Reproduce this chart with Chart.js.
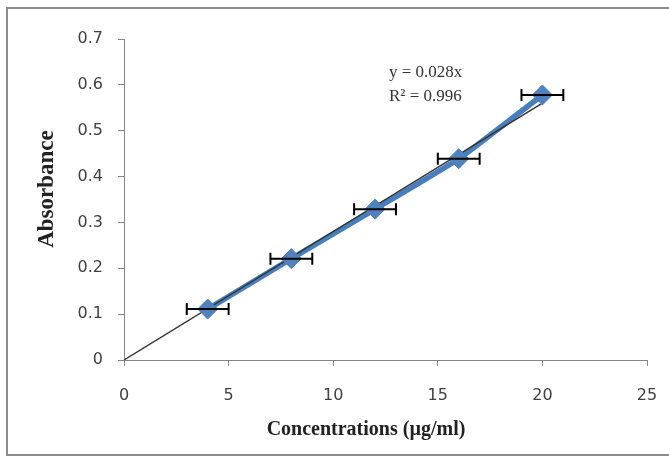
<!DOCTYPE html>
<html>
<head>
<meta charset="utf-8">
<script src="https://cdn.jsdelivr.net/npm/chart.js@4"></script>
<style>
  html, body { margin: 0; padding: 0; background: #ffffff; }
  #wrap { width: 669px; height: 459px; position: relative; }
</style>
</head>
<body>
<div id="wrap"><canvas id="c" width="669" height="459"></canvas></div>
<script>
// ---- data ----
const concentrations = [4, 8, 12, 16, 20];
const absorbance = [0.111, 0.221, 0.329, 0.439, 0.578];
const concErr = [1, 1, 1, 1, 1];
const trendX = [0, 20];
const trendY = [0, 0.56];
const xTickLabels = ['0', '5', '10', '15', '20', '25'];
const yTickLabels = ['0', '0.1', '0.2', '0.3', '0.4', '0.5', '0.6', '0.7'];
const equationLines = ['y = 0.028x', 'R\u00B2 = 0.996'];
const xTitle = 'Concentrations (\u00B5g/ml)';
const yTitle = 'Absorbance';

const points = concentrations.map((x, i) => ({ x: x, y: absorbance[i] }));
const trend = trendX.map((x, i) => ({ x: x, y: trendY[i] }));

const blue = '#4A7EBB';
const axisGrey = '#868686';

const errorBars = {
  id: 'errorBars',
  afterDatasetsDraw(chart) {
    const ctx = chart.ctx;
    const xs = chart.scales.x, ys = chart.scales.y;
    ctx.save();
    ctx.strokeStyle = '#000000';
    ctx.lineWidth = 2;
    concentrations.forEach((x, i) => {
      const y = ys.getPixelForValue(absorbance[i]);
      const x1 = xs.getPixelForValue(x - concErr[i]);
      const x2 = xs.getPixelForValue(x + concErr[i]);
      ctx.beginPath();
      ctx.moveTo(x1, y); ctx.lineTo(x2, y);
      ctx.moveTo(x1, y - 6); ctx.lineTo(x1, y + 6);
      ctx.moveTo(x2, y - 6); ctx.lineTo(x2, y + 6);
      ctx.stroke();
    });
    ctx.restore();
  }
};

const frameAndText = {
  id: 'frameAndText',
  beforeDraw(chart) {
    const ctx = chart.ctx;
    ctx.save();
    ctx.fillStyle = '#ffffff';
    ctx.fillRect(0, 0, chart.width, chart.height);
    ctx.strokeStyle = '#8c8c8c';
    ctx.lineWidth = 2;
    ctx.strokeRect(7, 8, 700, 447);
    ctx.restore();
  },
  afterDraw(chart) {
    const ctx = chart.ctx;
    ctx.save();
    ctx.fillStyle = '#333333';
    ctx.font = '17px "Liberation Serif", "Times New Roman", serif';
    ctx.textBaseline = 'middle';
    ctx.textAlign = 'left';
    ctx.fillText(equationLines[0], 389, 73);
    ctx.fillText(equationLines[1], 389, 97);
    // axis titles
    ctx.fillStyle = '#222222';
    ctx.textAlign = 'center';
    ctx.font = 'bold 20px "Liberation Serif", "Times New Roman", serif';
    ctx.fillText(xTitle, 366, 430);
    ctx.translate(47, 189);
    ctx.rotate(-Math.PI / 2);
    ctx.font = 'bold 23px "Liberation Serif", "Times New Roman", serif';
    ctx.fillText(yTitle, 0, 0);
    ctx.restore();
  }
};

new Chart(document.getElementById('c'), {
  type: 'scatter',
  data: {
    datasets: [
      {
        label: 'points',
        data: points,
        showLine: false,
        pointStyle: 'rectRot',
        pointRadius: 10,
        backgroundColor: '#4F81BD',
        borderColor: '#4F81BD',
        borderWidth: 1,
        order: 0
      },
      {
        label: 'trend',
        data: trend,
        showLine: true,
        pointRadius: 0,
        borderColor: '#333333',
        borderWidth: 1.4,
        order: 1
      },
      {
        label: 'line',
        data: points,
        showLine: true,
        pointRadius: 0,
        borderColor: blue,
        borderWidth: 5.5,
        tension: 0.15,
        order: 2
      }
    ]
  },
  options: {
    responsive: false,
    animation: false,
    devicePixelRatio: 1,
    layout: { padding: { left: 0, top: 39, right: 22, bottom: 0 } },
    plugins: {
      legend: { display: false },
      tooltip: { enabled: false }
    },
    scales: {
      x: {
        type: 'linear',
        min: 0, max: 25,
        afterFit(scale) { scale.height = 99; scale.paddingLeft = 0; scale.paddingRight = 0; },
        ticks: {
          stepSize: 5,
          padding: 20,
          maxRotation: 0,
          color: '#404040',
          font: { family: '"DejaVu Sans", Verdana, sans-serif', size: 16 },
          callback: (v, i) => xTickLabels[i]
        },
        grid: { drawOnChartArea: false, drawTicks: true, tickLength: 6, color: axisGrey },
        border: { color: axisGrey, width: 1 }
      },
      y: {
        type: 'linear',
        min: 0, max: 0.7,
        afterFit(scale) { scale.width = 124; },
        ticks: {
          stepSize: 0.1,
          padding: 15,
          color: '#404040',
          font: { family: '"DejaVu Sans", Verdana, sans-serif', size: 16 },
          callback: (v, i) => yTickLabels[i]
        },
        grid: { drawOnChartArea: false, drawTicks: true, tickLength: 6, color: axisGrey },
        border: { color: axisGrey, width: 1 }
      }
    }
  },
  plugins: [frameAndText, errorBars]
});
</script>
</body>
</html>
